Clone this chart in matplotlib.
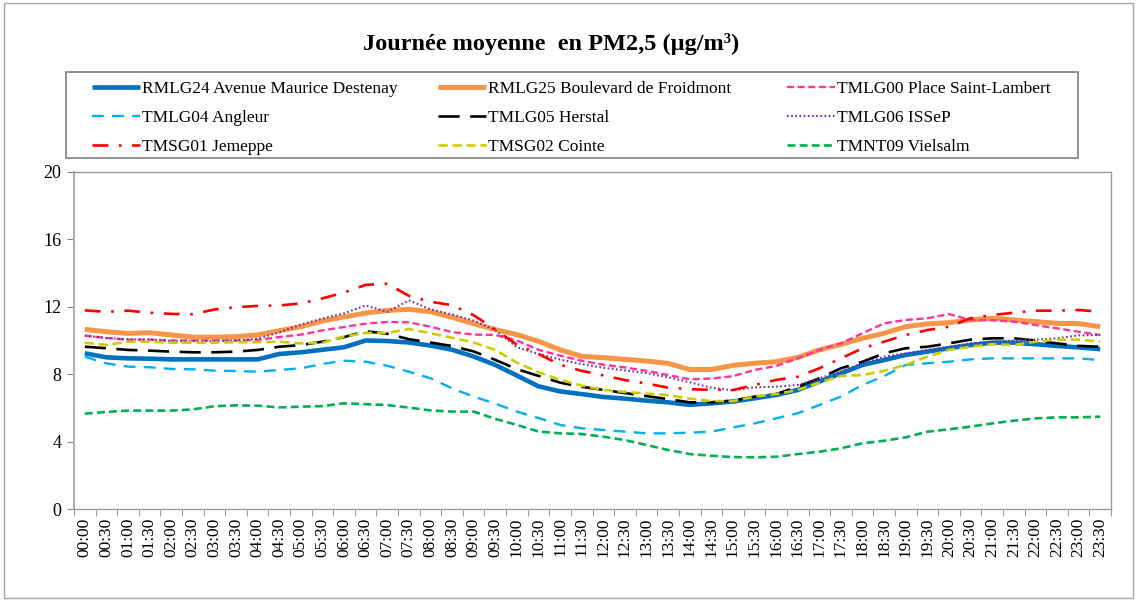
import matplotlib
matplotlib.use("Agg")
import matplotlib.pyplot as plt
from matplotlib.patches import Rectangle
import numpy as np

plt.rcParams['font.family'] = ['Liberation Serif', 'DejaVu Serif']

times = [f"{h:02d}:{m:02d}" for h in range(24) for m in (0, 30)]

rmlg24 = [9.24, 9.0, 8.94, 8.92, 8.88, 8.88, 8.88, 8.88, 8.88, 9.2, 9.3, 9.45,
          9.6, 10.0, 9.97, 9.88, 9.7, 9.45, 9.05, 8.55, 7.92, 7.28, 6.98, 6.82,
          6.65, 6.55, 6.43, 6.33, 6.18, 6.27, 6.38, 6.57, 6.77, 7.06, 7.56, 8.05,
          8.55, 8.84, 9.14, 9.34, 9.54, 9.73, 9.87, 9.87, 9.78, 9.68, 9.59, 9.49]
rmlg25 = [10.66, 10.52, 10.42, 10.46, 10.33, 10.2, 10.2, 10.23, 10.33, 10.58, 10.82, 11.16,
          11.4, 11.63, 11.78, 11.85, 11.71, 11.38, 11.0, 10.65, 10.35, 9.95, 9.45, 9.06,
          8.98, 8.88, 8.78, 8.64, 8.28, 8.28, 8.52, 8.65, 8.74, 9.0, 9.44, 9.77,
          10.13, 10.43, 10.82, 10.98, 11.06, 11.22, 11.32, 11.22, 11.12, 11.02, 11.0, 10.82]
tmlg00 = [10.29, 10.15, 10.05, 10.05, 10.0, 10.0, 10.0, 10.0, 10.03, 10.2, 10.35, 10.6,
          10.8, 11.0, 11.1, 11.08, 10.82, 10.5, 10.35, 10.33, 10.0, 9.45, 9.1, 8.8,
          8.56, 8.4, 8.2, 7.95, 7.7, 7.74, 7.88, 8.25, 8.49, 8.94, 9.44, 9.83,
          10.43, 11.02, 11.22, 11.32, 11.57, 11.22, 11.2, 11.12, 10.92, 10.72, 10.52, 10.33]
tmlg04 = [9.04, 8.64, 8.45, 8.41, 8.31, 8.29, 8.21, 8.19, 8.15, 8.25, 8.35, 8.61,
          8.8, 8.74, 8.5, 8.15, 7.76, 7.16, 6.67, 6.25, 5.78, 5.4, 4.99, 4.79,
          4.69, 4.59, 4.49, 4.49, 4.53, 4.59, 4.84, 5.08, 5.38, 5.68, 6.17, 6.67,
          7.36, 7.89, 8.55, 8.65, 8.74, 8.88, 8.94, 8.94, 8.94, 8.94, 8.94, 8.84]
tmlg05 = [9.63, 9.54, 9.44, 9.4, 9.34, 9.3, 9.3, 9.34, 9.44, 9.63, 9.73, 9.93,
          10.2, 10.55, 10.4, 10.08, 9.88, 9.67, 9.35, 8.85, 8.3, 7.9, 7.5, 7.25,
          7.07, 6.88, 6.7, 6.52, 6.33, 6.33, 6.43, 6.67, 6.82, 7.26, 7.76, 8.35,
          8.74, 9.24, 9.54, 9.63, 9.83, 10.05, 10.13, 10.13, 10.0, 9.83, 9.68, 9.63]
tmlg06 = [10.29, 10.15, 10.06, 10.06, 9.96, 9.96, 9.96, 10.0, 10.1, 10.48, 10.95, 11.3,
          11.61, 12.08, 11.7, 12.38, 11.85, 11.55, 11.18, 10.62, 9.6, 9.2, 8.87, 8.6,
          8.38, 8.23, 8.06, 7.82, 7.52, 7.2, 7.04, 7.22, 7.26, 7.36, 7.76, 8.15,
          8.65, 9.04, 9.24, 9.44, 9.63, 9.83, 9.93, 10.0, 10.05, 10.13, 10.3, 10.33]
tmsg01 = [11.79, 11.7, 11.77, 11.65, 11.58, 11.56, 11.84, 11.98, 12.05, 12.08, 12.2, 12.5,
          12.85, 13.3, 13.37, 12.65, 12.3, 12.1, 11.5, 10.65, 9.75, 9.2, 8.56, 8.2,
          7.93, 7.65, 7.45, 7.2, 7.11, 7.07, 7.06, 7.36, 7.66, 7.85, 8.35, 8.94,
          9.54, 9.93, 10.33, 10.62, 10.82, 11.32, 11.51, 11.65, 11.77, 11.77, 11.81, 11.71]
tmsg02 = [9.87, 9.73, 9.93, 9.93, 9.87, 9.87, 9.87, 9.9, 9.9, 9.93, 9.83, 9.87,
          10.23, 10.45, 10.45, 10.68, 10.43, 10.16, 9.88, 9.44, 8.68, 8.12, 7.67, 7.32,
          7.07, 6.95, 6.85, 6.76, 6.55, 6.41, 6.4, 6.67, 6.82, 7.06, 7.5, 7.9,
          7.95, 8.2, 8.55, 9.04, 9.44, 9.63, 9.78, 9.73, 9.93, 10.05, 10.05, 9.93]
tmnt09 = [5.66, 5.76, 5.84, 5.84, 5.84, 5.91, 6.1, 6.15, 6.13, 6.03, 6.07, 6.11,
          6.27, 6.22, 6.17, 6.02, 5.85, 5.78, 5.78, 5.35, 4.99, 4.6, 4.49, 4.45,
          4.29, 4.09, 3.8, 3.5, 3.26, 3.16, 3.08, 3.07, 3.1, 3.26, 3.4, 3.6,
          3.9, 4.05, 4.25, 4.59, 4.73, 4.89, 5.08, 5.24, 5.38, 5.44, 5.44, 5.48]

labels = ["RMLG24 Avenue Maurice Destenay", "RMLG25 Boulevard de Froidmont",
          "TMLG00 Place Saint-Lambert", "TMLG04 Angleur", "TMLG05 Herstal",
          "TMLG06 ISSeP", "TMSG01 Jemeppe", "TMSG02 Cointe", "TMNT09 Vielsalm"]
series = [rmlg24, rmlg25, tmlg00, tmlg04, tmlg05, tmlg06, tmsg01, tmsg02, tmnt09]

styles = [
    dict(color="#0070C0", lw=3.3, ls="-"),
    dict(color="#F79646", lw=3.6, ls="-"),
    dict(color="#FF3399", lw=1.7, ls=(0, (3, 1.5))),
    dict(color="#00B0F0", lw=1.7, ls=(0, (5, 3.5))),
    dict(color="#000000", lw=1.9, ls=(0, (8, 4))),
    dict(color="#7030A0", lw=1.5, ls=(0, (0.8, 1.2))),
    dict(color="#FF0000", lw=1.9, ls=(0, (6, 4, 1, 4))),
    dict(color="#CCCC00", lw=1.9, ls=(0, (3.5, 1.8))),
    dict(color="#00B050", lw=1.9, ls=(0, (3, 1.6))),
]

W, H = 1137, 600
fig = plt.figure(figsize=(W / 100, H / 100), dpi=100)
ax = fig.add_axes([74 / W, 1 - 509 / H, (1111 - 74) / W, (509 - 172) / H])

x = np.arange(len(times))
handles = []
for vals, lab, st in zip(series, labels, styles):
    h, = ax.plot(x, vals, label=lab, solid_capstyle="butt", dash_capstyle="butt", **st)
    handles.append(h)

ax.set_xlim(-0.5, len(times) - 0.5)
ax.set_ylim(0, 20)
ax.set_yticks(np.arange(0, 21, 4))
ax.set_xticks(x)
ax.set_xticklabels(times, rotation=90, fontsize=12.5)
ax.set_xticks(np.arange(-0.5, len(times), 1.0), minor=True)
ax.tick_params(axis="x", which="major", length=0, pad=6)
ax.tick_params(axis="x", which="minor", length=5, direction="out", color="#868686")
ax.tick_params(axis="y", length=5, direction="out", color="#868686", labelsize=13, pad=4)
for s in ax.spines.values():
    s.set_color("#9a9a9a")
    s.set_linewidth(1.0)
ax.spines["left"].set_color("#b0b0b0")
ax.spines["left"].set_linewidth(1.5)

fig.text(551 / W, 1 - 44 / H, "Journée moyenne  en PM2,5 (µg/m³)",
         ha="center", va="center", fontsize=17.5, fontweight="bold")

# legend: three columns laid out row by row, as in the reference
col_x = [92, 438, 787]
for c in range(3):
    idx = [c, c + 3, c + 6]
    fig.legend([handles[i] for i in idx], [labels[i] for i in idx],
               loc="upper left", bbox_to_anchor=(col_x[c] / W, 1 - 80.5 / H),
               fontsize=12.5, frameon=False, borderpad=0, borderaxespad=0,
               handlelength=2.75, handletextpad=0.12, labelspacing=0.76)
fig.patches.append(Rectangle((66 / W, 1 - 158 / H), (1078 - 66) / W, (158 - 72) / H,
                             transform=fig.transFigure, fill=False, edgecolor="#7f7f7f", lw=1.2))

fig.patches.append(Rectangle((4 / W, 2 / H), (1133 - 4) / W, (597 - 2) / H, transform=fig.transFigure,
                             fill=False, edgecolor="#a6a6a6", lw=1.0))

fig.savefig("out.png", dpi=100)
